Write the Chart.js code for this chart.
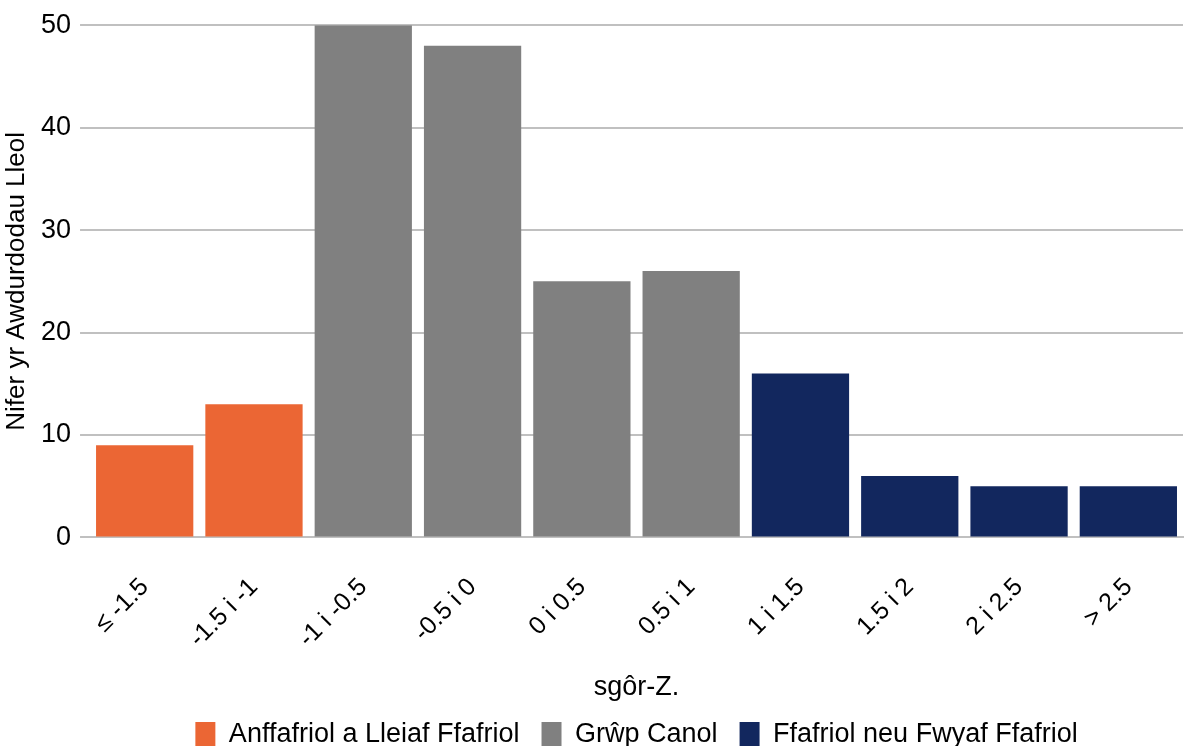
<!DOCTYPE html>
<html>
<head>
<meta charset="utf-8">
<script src="https://cdn.jsdelivr.net/npm/chart.js@4"></script>
<style>
  html, body { margin: 0; padding: 0; background: #fff; }
  #wrap { width: 1192px; height: 746px; }
</style>
</head>
<body>
<div id="wrap"><canvas id="grafica"></canvas></div>
<script>
// categorías y valores
const categorias = ["≤ -1.5", "-1.5 i -1", "-1 i -0.5", "-0.5 i 0", "0 i 0.5", "0.5 i 1", "1 i 1.5", "1.5 i 2", "2 i 2.5", "> 2.5"];
const anffafriol = [9, 13, null, null, null, null, null, null, null, null];
const canol = [null, null, 50, 48, 25, 26, null, null, null, null];
const ffafriol = [null, null, null, null, null, null, 16, 6, 5, 5];
const ticksY = [0, 10, 20, 30, 40, 50];

const fuente = "'Liberation Sans', Arial, sans-serif";
Chart.defaults.font.family = fuente;
Chart.defaults.color = "#000";

const ctx = document.getElementById('grafica').getContext('2d');

new Chart(ctx, {
  type: 'bar',
  data: {
    labels: categorias,
    datasets: [
      { label: 'Anffafriol a Lleiaf Ffafriol', data: anffafriol, backgroundColor: '#EB6634' },
      { label: 'Grŵp Canol', data: canol, backgroundColor: '#808080' },
      { label: 'Ffafriol neu Fwyaf Ffafriol', data: ffafriol, backgroundColor: '#12275E' }
    ]
  },
  options: {
    responsive: true,
    maintainAspectRatio: false,
    animation: false,
    // el padding inferior negativo baja la leyenda hasta el borde
    layout: { padding: { top: 15, right: 9, left: 4, bottom: -12 } },
    datasets: { bar: { categoryPercentage: 1, barPercentage: 0.89 } },
    plugins: {
      tooltip: { enabled: false },
      legend: {
        position: 'bottom',
        fullSize: false,
        labels: {
          font: { size: 27 },
          boxWidth: 20,
          boxHeight: 25,
          padding: 22
        }
      }
    },
    scales: {
      x: {
        stacked: true,
        grid: { display: false, drawTicks: false },
        border: { color: '#c0c0c0', width: 2 },
        ticks: { font: { size: 25 }, minRotation: 45, maxRotation: 45, padding: 35 },
        title: { display: true, text: 'sgôr-Z.', font: { size: 27 }, padding: { top: -17, bottom: -5 } }
      },
      y: {
        stacked: true,
        min: 0,
        max: 50,
        afterBuildTicks: eje => { eje.ticks = ticksY.map(v => ({ value: v })); },
        grid: { color: '#c0c0c0', lineWidth: 2, tickLength: 10 },
        border: { display: false },
        ticks: { font: { size: 27 }, padding: 9 },
        title: { display: true, text: 'Nifer yr Awdurdodau Lleol', font: { size: 26, lineHeight: 1 }, padding: { top: 0, bottom: 2 } }
      }
    }
  }
});
</script>
</body>
</html>
